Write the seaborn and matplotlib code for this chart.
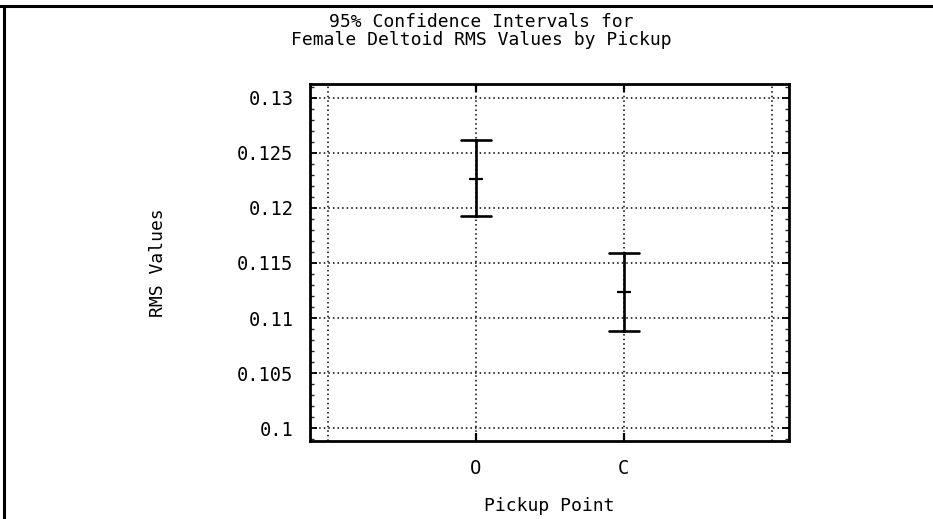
import numpy as np
import pandas as pd
import matplotlib
matplotlib.use("Agg")
import matplotlib.pyplot as plt
from matplotlib.lines import Line2D
from matplotlib.ticker import MultipleLocator, FixedLocator
import seaborn as sns

# ---- data ----
pickups = ["O", "C"]
pickup_pos = [1, 2]
means = [0.12266, 0.11239]
lower = [0.11925, 0.10886]
upper = [0.12613, 0.11587]
y_ticks = [0.1, 0.105, 0.11, 0.115, 0.12, 0.125, 0.13]
y_tick_labels = ["0.1", "0.105", "0.11", "0.115", "0.12", "0.125", "0.13"]

rows = []
for p, x, m, lo, hi in zip(pickups, pickup_pos, means, lower, upper):
    for v in (lo, m, hi):
        rows.append({"Pickup": x, "RMS": v})
df = pd.DataFrame(rows)

sns.set_theme(style="white")
plt.rcParams["font.family"] = ["DejaVu Sans Mono", "DejaVu Sans"]

fig = plt.figure(figsize=(9.33, 5.19), dpi=100)
ax = fig.add_axes([310 / 933, 1 - 441 / 519, 479 / 933, 357 / 519])

sns.pointplot(
    data=df, x="Pickup", y="RMS", native_scale=True,
    estimator=np.median, errorbar=lambda v: (v.min(), v.max()),
    color="black", linestyle="none", marker="_", markersize=10,
    markeredgewidth=1.6, capsize=0.2, err_kws={"linewidth": 1.9},
    ax=ax,
)

ax.set_xlim(-0.122, 3.117)
ax.set_ylim(0.09885, 0.13124)

ax.xaxis.set_major_locator(FixedLocator(pickup_pos))
ax.set_xticklabels(pickups)
ax.xaxis.set_minor_locator(FixedLocator([0, 3]))
ax.set_yticks(y_ticks)
ax.set_yticklabels(y_tick_labels)
ax.yaxis.set_minor_locator(MultipleLocator(0.001))

ax.tick_params(axis="y", which="major", direction="in", left=True, right=True,
               length=5, width=1.3, labelsize=13.5, pad=12, colors="black")
ax.tick_params(axis="y", which="minor", direction="in", left=True, right=True,
               length=3, width=1.0)
ax.tick_params(axis="x", which="major", direction="in", bottom=True, top=True,
               length=6, width=1.6, labelsize=13.5, pad=13, colors="black")
ax.tick_params(axis="x", which="minor", length=0)

ax.grid(True, which="major", axis="both", color="black", linestyle=(0, (1, 2)), linewidth=1.1)
ax.grid(True, which="minor", axis="x", color="black", linestyle=(0, (1, 2)), linewidth=1.1)

for s in ax.spines.values():
    s.set_color("black")
    s.set_linewidth(2.0)

ax.set_xlabel("Pickup Point", fontsize=13, color="black")
ax.set_ylabel("RMS Values", fontsize=13, color="black")
ax.xaxis.set_label_coords(0.5, -(506 - 441) / 357)
ax.yaxis.set_label_coords(-(310 - 158) / 479, 0.5)
ax.xaxis.label.set_va("center")
ax.yaxis.label.set_va("center")

fig.text(481 / 933, 1 - 22 / 519, "95% Confidence Intervals for",
         ha="center", va="center", fontsize=13, color="black")
fig.text(481 / 933, 1 - 40 / 519, "Female Deltoid RMS Values by Pickup",
         ha="center", va="center", fontsize=13, color="black")

# page border (top and left edges of the scanned frame)
fig.add_artist(Line2D([0, 1], [1 - 6 / 519, 1 - 6 / 519], transform=fig.transFigure,
                      color="black", linewidth=2.2))
fig.add_artist(Line2D([4 / 933, 4 / 933], [0, 1 - 6 / 519], transform=fig.transFigure,
                      color="black", linewidth=2.2))

fig.savefig("out.png", dpi=100)
